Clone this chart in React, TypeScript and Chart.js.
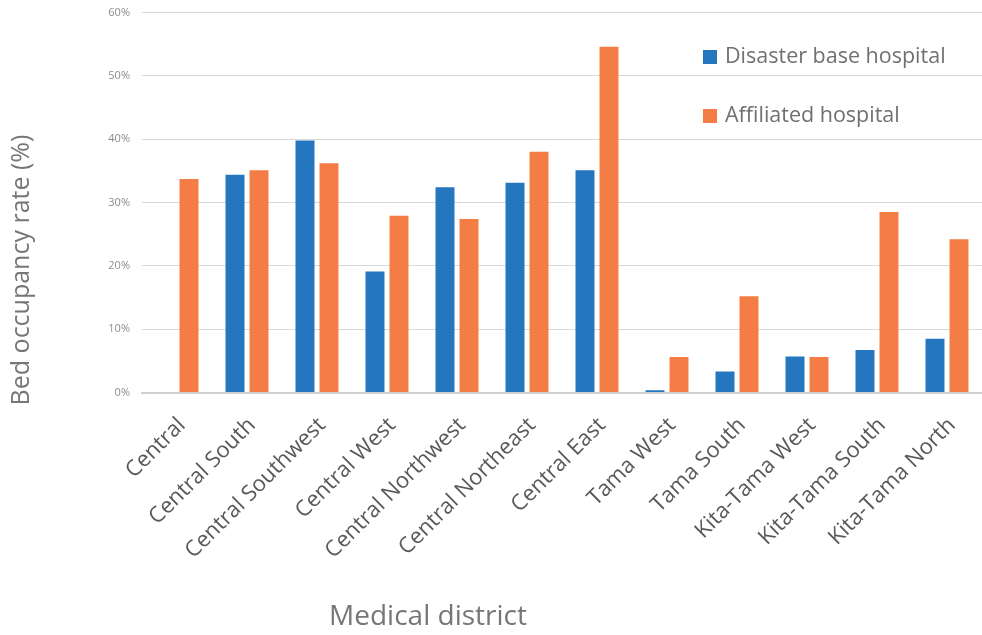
import React, { useEffect, useRef } from "react";
import { Chart, registerables } from "chart.js";

Chart.register(...registerables);

const categories = [
  "Central",
  "Central South",
  "Central Southwest",
  "Central West",
  "Central Northwest",
  "Central Northeast",
  "Central East",
  "Tama West",
  "Tama South",
  "Kita-Tama West",
  "Kita-Tama South",
  "Kita-Tama North",
];

const disasterBase: (number | null)[] = [null, 34.4, 39.8, 19.1, 32.4, 33.1, 35.1, 0.35, 3.3, 5.7, 6.7, 8.5];
const affiliated: number[] = [33.7, 35.1, 36.2, 27.9, 27.4, 38.0, 54.6, 5.6, 15.2, 5.6, 28.5, 24.2];

const seriesNames = ["Disaster base hospital", "Affiliated hospital"];
const seriesColors = ["#2476BE", "#F47D46"];
const yTitle = "Bed occupancy rate (%)";
const xTitle = "Medical district";

const FONT = "'Open Sans', 'Noto Sans', sans-serif";

const overlayPlugin = {
  id: "overlay",
  afterDraw(chart: any) {
    const ctx = chart.ctx;
    const area = chart.chartArea;
    ctx.save();
    // legend
    ctx.font = `21.5px ${FONT}`;
    ctx.textBaseline = "middle";
    ctx.textAlign = "left";
    const lx = area.left + 561;
    const rows = [57, 116];
    seriesNames.forEach((name, i) => {
      ctx.fillStyle = seriesColors[i];
      ctx.fillRect(lx, rows[i] - 7, 14, 14);
      ctx.fillStyle = "#707070";
      ctx.fillText(name, lx + 22, rows[i]);
    });
    // y title
    ctx.font = `25px ${FONT}`;
    ctx.fillStyle = "#767676";
    ctx.translate(22, 270);
    ctx.rotate(-Math.PI / 2);
    ctx.textAlign = "center";
    ctx.textBaseline = "middle";
    ctx.fillText(yTitle, 0, 0);
    ctx.restore();
    ctx.save();
    ctx.font = `28px ${FONT}`;
    ctx.fillStyle = "#767676";
    ctx.textAlign = "center";
    ctx.textBaseline = "middle";
    ctx.fillText(xTitle, 428, 617);
    ctx.restore();
  },
};

export default function App() {
  const ref = useRef<HTMLCanvasElement | null>(null);
  useEffect(() => {
    document.body.style.margin = "0";
    const chart = new Chart(ref.current as HTMLCanvasElement, {
      type: "bar",
      data: {
        labels: categories,
        datasets: [
          {
            label: seriesNames[0],
            data: disasterBase,
            backgroundColor: seriesColors[0],
            categoryPercentage: 0.686,
            barPercentage: 0.79,
          },
          {
            label: seriesNames[1],
            data: affiliated,
            backgroundColor: seriesColors[1],
            categoryPercentage: 0.686,
            barPercentage: 0.79,
          },
        ],
      },
      options: {
        animation: false,
        responsive: false,
        maintainAspectRatio: false,
        layout: { padding: { top: 12.5, right: 0, left: 0, bottom: 0 } },
        plugins: {
          legend: { display: false },
          tooltip: { enabled: false },
        },
        scales: {
          x: {
            grid: { display: false, drawTicks: false },
            border: { color: "#cfcfcf", width: 2 },
            ticks: {
              minRotation: 45,
              maxRotation: 45,
              autoSkip: false,
              padding: 20,
              labelOffset: 5,
              color: "#595959",
              font: { family: FONT, size: 22 },
            },
            afterFit: (scale: any) => {
              scale.height = 242.5;
              scale.paddingLeft = 0;
              scale.paddingRight = 0;
            },
          },
          y: {
            min: 0,
            max: 60,
            grid: { color: "#d9d9d9", lineWidth: 1, drawTicks: false },
            border: { display: false },
            ticks: {
              stepSize: 10,
              padding: 12,
              color: "#8c8c8c",
              font: { family: FONT, size: 11 },
              callback: (v: any) => `${v}%`,
            },
            afterFit: (scale: any) => {
              scale.width = 142;
              scale.paddingTop = 0;
              scale.paddingBottom = 0;
            },
          },
        },
      },
      plugins: [overlayPlugin],
    });
    return () => chart.destroy();
  }, []);
  return (
    <div style={{ width: 982, height: 635 }}>
      <canvas ref={ref} width={982} height={635} style={{ display: "block" }} />
    </div>
  );
}
